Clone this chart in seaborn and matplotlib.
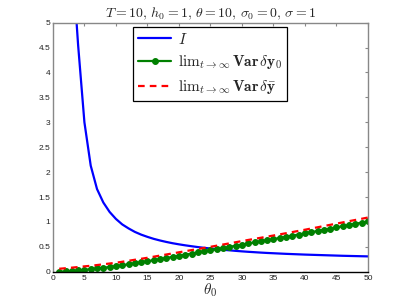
import matplotlib
matplotlib.use("Agg")
import matplotlib.pyplot as plt
import seaborn as sns

# ---- data ----
theta_blue = [3, 4, 5, 6, 7, 8, 9, 10, 11, 12, 13, 14, 15, 16, 17, 18, 19, 20,
              21, 22, 23, 24, 25, 26, 27, 28, 29, 30, 31, 32, 33, 34, 35, 36,
              37, 38, 39, 40, 41, 42, 43, 44, 45, 46, 47, 48, 49, 50]
I_vals = [6.40, 4.55, 3.00, 2.13, 1.66, 1.39, 1.20, 1.06, 0.95, 0.87, 0.80,
          0.745, 0.70, 0.66, 0.627, 0.598, 0.572, 0.550, 0.530, 0.512, 0.495,
          0.480, 0.466, 0.453, 0.441, 0.430, 0.419, 0.409, 0.400, 0.392,
          0.384, 0.377, 0.371, 0.365, 0.359, 0.354, 0.349, 0.344, 0.340,
          0.336, 0.332, 0.328, 0.324, 0.320, 0.317, 0.314, 0.311, 0.308]

theta = list(range(1, 51))
var_y0 = [0.000, 0.005, 0.015, 0.025, 0.040, 0.050, 0.065, 0.080, 0.095, 0.110,
          0.130, 0.150, 0.170, 0.190, 0.210, 0.232, 0.254, 0.276, 0.298, 0.320,
          0.342, 0.364, 0.386, 0.408, 0.430, 0.453, 0.476, 0.499, 0.522, 0.545,
          0.567, 0.589, 0.611, 0.633, 0.655, 0.678, 0.701, 0.724, 0.747, 0.770,
          0.794, 0.818, 0.842, 0.866, 0.890, 0.914, 0.938, 0.962, 0.986, 1.010]
var_ybar = [0.060, 0.070, 0.082, 0.094, 0.108, 0.119, 0.134, 0.149, 0.165, 0.180,
            0.200, 0.220, 0.240, 0.260, 0.280, 0.302, 0.324, 0.346, 0.368, 0.390,
            0.412, 0.434, 0.456, 0.478, 0.500, 0.523, 0.546, 0.569, 0.592, 0.615,
            0.638, 0.660, 0.682, 0.704, 0.727, 0.750, 0.773, 0.796, 0.820, 0.843,
            0.868, 0.892, 0.917, 0.941, 0.966, 0.990, 1.015, 1.039, 1.063, 1.088]

labels = [r"$I$",
          r"$\mathrm{lim}_{t\rightarrow\infty}\,\mathbf{Var}\,\delta\mathbf{y}_\mathbf{0}$",
          r"$\mathrm{lim}_{t\rightarrow\infty}\,\mathbf{Var}\,\delta\bar{\mathbf{y}}$"]
title = r"$T = 10,\, h_0 = 1,\, \theta = 10,\, \sigma_0 = 0,\, \sigma = 1$"
x_ticks = list(range(0, 51, 5))
y_ticks = [0, 0.5, 1, 1.5, 2, 2.5, 3, 3.5, 4, 4.5, 5]
y_ticklabels = ["0", "0.5", "1", "1.5", "2", "2.5", "3", "3.5", "4", "4.5", "5"]

# ---- style ----
sns.set_style("white")
plt.rcParams["font.family"] = ["Liberation Sans", "DejaVu Sans"]
plt.rcParams["mathtext.fontset"] = "cm"

fig = plt.figure(figsize=(4.07, 3.06), dpi=100)
ax = fig.add_axes([0.130, 0.112, 0.774, 0.814])

sns.lineplot(x=theta_blue, y=I_vals, ax=ax, color="#0000ff", linewidth=1.6,
             label=labels[0])
sns.lineplot(x=theta, y=var_y0, ax=ax, color="#008000", linewidth=1.6,
             marker="o", markersize=4.2, markeredgecolor="#008000",
             label=labels[1])
sns.lineplot(x=theta, y=var_ybar, ax=ax, color="#ff0000", linewidth=1.6,
             dashes=False, label=labels[2])
ax.lines[-1].set_dashes((3.0, 2.3))

ax.set_xlim(0, 50)
ax.set_ylim(0, 5)
ax.set_xticks(x_ticks)
ax.set_yticks(y_ticks)
ax.set_yticklabels(y_ticklabels)
ax.tick_params(direction="in", length=2.5, width=0.8, color="#888888",
               labelsize=6, pad=2, top=True, right=True, labelcolor="#222222")

for side in ["left", "top", "right"]:
    ax.spines[side].set_color("#888888")
    ax.spines[side].set_linewidth(1.0)
ax.spines["bottom"].set_color("#000000")
ax.spines["bottom"].set_linewidth(1.0)

ax.set_title(title, fontsize=10, pad=4)
ax.set_xlabel(r"$\theta_0$", fontsize=11, labelpad=0)
ax.set_ylabel("")

leg = ax.legend(loc="upper left", bbox_to_anchor=(0.254, 0.984), fontsize=11,
                frameon=True, fancybox=False, handlelength=2.2,
                labelspacing=0.45, borderpad=0.32, handletextpad=0.4,
                borderaxespad=0)
leg.get_frame().set_edgecolor("#000000")
leg.get_frame().set_linewidth(0.9)
leg.get_frame().set_alpha(1.0)
leg.legend_handles[2].set_dashes((3.0, 2.3))

fig.savefig("out.png", dpi=100)
